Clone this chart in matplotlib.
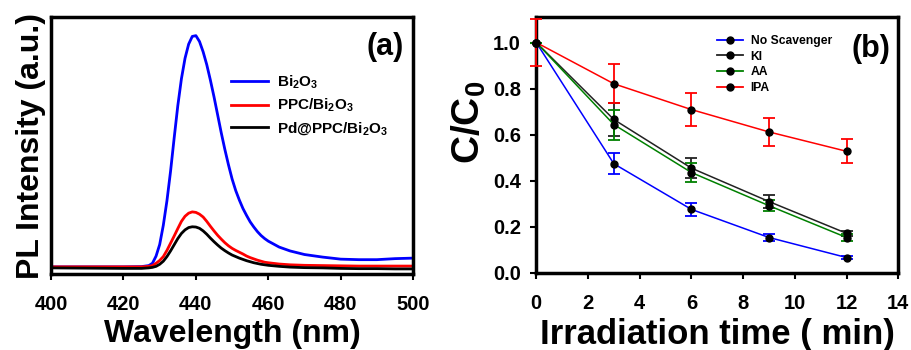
import matplotlib
matplotlib.use("Agg")
import matplotlib.pyplot as plt
from matplotlib.lines import Line2D

plt.rcParams['font.family'] = ['Liberation Sans', 'DejaVu Sans']
plt.rcParams['font.weight'] = 'bold'
plt.rcParams['mathtext.fontset'] = 'custom'
plt.rcParams['mathtext.rm'] = 'Liberation Sans:bold'
plt.rcParams['mathtext.it'] = 'Liberation Sans:bold'
plt.rcParams['mathtext.bf'] = 'Liberation Sans:bold'

# (a) PL spectra
wavelength = [400, 410, 420, 425, 427, 428, 429, 430, 431, 432, 433, 434, 435, 436,
              437, 438, 439, 440, 441, 442, 443, 444, 445, 446, 447, 448, 449, 450,
              451, 452, 453, 454, 455, 456, 457, 458, 459, 460,
              463, 466, 470, 475, 480, 485, 490, 495, 500]
pl_bi2o3 = [0.028, 0.028, 0.028, 0.029, 0.033, 0.042, 0.07, 0.115, 0.19, 0.285, 0.40,
            0.53, 0.655, 0.76, 0.84, 0.895, 0.925, 0.928, 0.905, 0.865, 0.815, 0.755,
            0.69, 0.62, 0.55, 0.485, 0.425, 0.37,
            0.325, 0.288, 0.255, 0.228, 0.203, 0.183, 0.165, 0.15, 0.138, 0.128,
            0.105, 0.09, 0.076, 0.066, 0.058, 0.056, 0.056, 0.06, 0.062]
pl_ppc = [0.028, 0.028, 0.028, 0.028, 0.030, 0.033, 0.042, 0.053, 0.068, 0.092, 0.12,
          0.148, 0.177, 0.205, 0.225, 0.237, 0.242, 0.24, 0.233, 0.222, 0.205, 0.186,
          0.168, 0.151, 0.136, 0.122, 0.11, 0.1,
          0.092, 0.085, 0.078, 0.07, 0.064, 0.059, 0.054, 0.05, 0.046, 0.044,
          0.039, 0.036, 0.034, 0.033, 0.032, 0.031, 0.031, 0.031, 0.031]
pl_pd_ppc = [0.024, 0.023, 0.022, 0.022, 0.024, 0.026, 0.030, 0.038, 0.05, 0.068, 0.09,
             0.114, 0.138, 0.158, 0.172, 0.181, 0.184, 0.183, 0.178, 0.168, 0.155, 0.14,
             0.126, 0.113, 0.101, 0.091, 0.082, 0.074,
             0.068, 0.062, 0.057, 0.052, 0.048, 0.044, 0.041, 0.038, 0.036, 0.034,
             0.030, 0.027, 0.025, 0.024, 0.022, 0.021, 0.021, 0.020, 0.020]

# (b) scavenger experiments
t_min = [0, 3, 6, 9, 12]
c_none = [1.0, 0.474, 0.276, 0.154, 0.067]
c_none_err = [0.0, 0.045, 0.028, 0.015, 0.008]
c_ki = [1.0, 0.666, 0.455, 0.31, 0.172]
c_ki_err = [0.0, 0.07, 0.045, 0.03, 0.012]
c_aa = [1.0, 0.644, 0.436, 0.292, 0.154]
c_aa_err = [0.0, 0.065, 0.04, 0.025, 0.015]
c_ipa = [1.0, 0.821, 0.709, 0.612, 0.528]
c_ipa_err = [0.1, 0.084, 0.07, 0.06, 0.052]

fig = plt.figure(figsize=(9.12, 3.5), dpi=100)
ax1 = fig.add_axes([0.056, 0.217, 0.397, 0.734])
ax2 = fig.add_axes([0.588, 0.22, 0.397, 0.731])

for ax in (ax1, ax2):
    for s in ax.spines.values():
        s.set_linewidth(2.5)
    ax.tick_params(direction='out', length=4, width=1.5, labelsize=14.5)
    ax.tick_params(axis='x', pad=11)
    ax.tick_params(axis='y', pad=7)

# Panel a
ax1.plot(wavelength, pl_bi2o3, color='#0000ff', lw=2, label='Bi$_2$O$_3$')
ax1.plot(wavelength, pl_ppc, color='#ff0000', lw=2, label='PPC/Bi$_2$O$_3$')
ax1.plot(wavelength, pl_pd_ppc, color='black', lw=2, label='Pd@PPC/Bi$_2$O$_3$')
ax1.set_xlim(400, 500)
ax1.set_ylim(0, 1)
ax1.set_yticks([])
ax1.set_xticks([400, 420, 440, 460, 480, 500])
ax1.set_xlabel('Wavelength (nm)', fontsize=23, fontweight='bold', labelpad=4)
ax1.set_ylabel('PL Intensity (a.u.)', fontsize=23, fontweight='bold', labelpad=4)
ax1.text(0.923, 0.883, '(a)', transform=ax1.transAxes, fontsize=22,
         fontweight='bold', ha='center', va='center')
ax1.legend(loc='upper left', bbox_to_anchor=(0.497, 0.78), frameon=False,
           fontsize=11, handlelength=2.4, labelspacing=0.38, handletextpad=0.6,
           borderaxespad=0, borderpad=0)

# Panel b
series = [(c_none, c_none_err, '#0000ff', 'No Scavenger'),
          (c_ki, c_ki_err, '#222222', 'KI'),
          (c_aa, c_aa_err, '#008000', 'AA'),
          (c_ipa, c_ipa_err, '#ff0000', 'IPA')]
handles = []
for vals, errs, col, name in series:
    ax2.errorbar(t_min, vals, yerr=errs, color=col, lw=1.1, marker='o', ms=5,
                 mfc='black', mec='black', ecolor=col, elinewidth=1.3, capsize=4,
                 capthick=1.3, clip_on=False, zorder=3)
    handles.append(Line2D([], [], color=col, lw=1.3, marker='o', ms=5,
                          mfc='black', mec='black', label=name))
ax2.set_xlim(0, 14)
ax2.set_ylim(0, 1.11)
ax2.set_xticks(range(0, 15, 2))
ax2.set_yticks([0.0, 0.2, 0.4, 0.6, 0.8, 1.0])
ax2.set_yticklabels(['0.0', '0.2', '0.4', '0.6', '0.8', '1.0'])
ax2.set_xlabel('Irradiation time ( min)', fontsize=25, fontweight='bold', labelpad=4)
ax2.set_ylabel('C/C$_0$', fontsize=28, fontweight='bold')
ax2.yaxis.set_label_coords(-0.133, 0.59)
ax2.text(0.925, 0.874, '(b)', transform=ax2.transAxes, fontsize=22,
         fontweight='bold', ha='center', va='center')
ax2.legend(handles=handles, loc='upper left', bbox_to_anchor=(0.5, 0.93),
           frameon=False, fontsize=8.7, handlelength=2.15, labelspacing=0.3,
           handletextpad=0.6, borderaxespad=0, borderpad=0)

fig.savefig('out.png', dpi=100)
